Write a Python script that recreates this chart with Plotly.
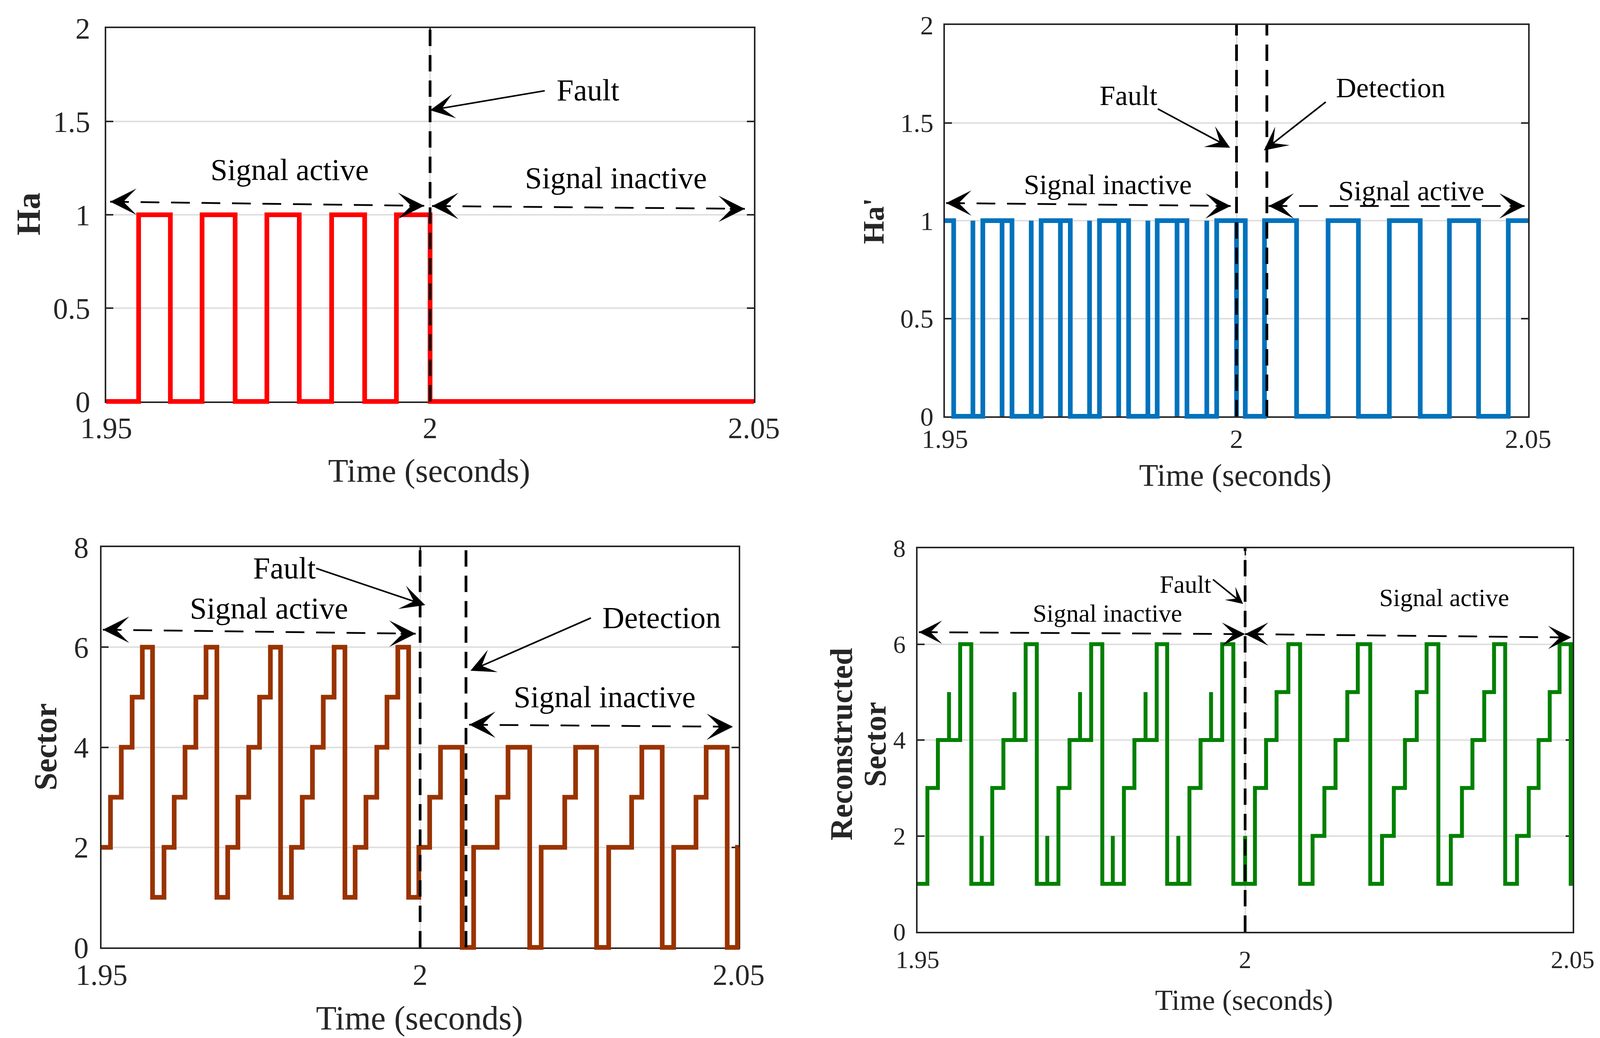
import plotly.graph_objects as go

W, H = 4107, 2658
FONT = "Liberation Serif"
AXC = "#262626"
GRIDC = "#DFDFDF"

# ---------------- data ----------------
time_ticks = [1.95, 2.0, 2.05]
time_ticktext = ["1.95", "2", "2.05"]
ha_ticks = [0, 0.5, 1, 1.5, 2]
ha_ticktext = ["0", "0.5", "1", "1.5", "2"]
sector_ticks = [0, 2, 4, 6, 8]
sector_ticktext = ["0", "2", "4", "6", "8"]

# Ha (original hall signal) - switching instants and levels
ha_time = [1.95, 1.9550, 1.9599, 1.9648, 1.9699, 1.9748, 1.9798, 1.9848, 1.9899, 1.9948, 2.0000, 2.05]
ha_level = [0, 1, 0, 1, 0, 1, 0, 1, 0, 1, 0, 0]

# Ha' (reconstructed hall signal); repeated instants are narrow glitches
hap_time = [1.95, 1.9515, 1.9548, 1.9548, 1.9565, 1.9598, 1.9598, 1.9615, 1.9648, 1.9648,
            1.9665, 1.9698, 1.9698, 1.9715, 1.9748, 1.9748, 1.9765, 1.9798, 1.9798, 1.9815,
            1.9848, 1.9848, 1.9864, 1.9898, 1.9898, 1.9915, 1.9949, 1.9949, 1.9966, 2.0000,
            2.0000, 2.0015, 2.0048, 2.0103, 2.0157, 2.0209, 2.0262, 2.0315, 2.0365, 2.0415,
            2.0466, 2.05]
hap_level = [1, 0, 1, 0, 1, 0, 1, 0, 1, 0,
             1, 0, 1, 0, 1, 0, 1, 0, 1, 0,
             1, 0, 1, 0, 1, 0, 1, 0, 1, 0,
             1, 0, 1, 0, 1, 0, 1, 0, 1, 0,
             1, 1]

# Sector
sector_time = [1.95, 1.9514, 1.9531, 1.9548, 1.9564, 1.9580, 1.9598, 1.9614, 1.9631, 1.9648,
               1.9664, 1.9681, 1.9698, 1.9714, 1.9731, 1.9748, 1.9765, 1.9781, 1.9798, 1.9815,
               1.9831, 1.9848, 1.9865, 1.9882, 1.9898, 1.9915, 1.9932, 1.9948, 1.9965, 1.9982,
               1.9998, 2.0015, 2.0032, 2.0066, 2.0084, 2.0121, 2.0138, 2.0172, 2.0190, 2.0227,
               2.0244, 2.0277, 2.0296, 2.0332, 2.0348, 2.0380, 2.0398, 2.0433, 2.0449, 2.0482,
               2.0498, 2.05]
sector_level = [2, 3, 4, 5, 6, 1, 2, 3, 4, 5,
                6, 1, 2, 3, 4, 5, 6, 1, 2, 3,
                4, 5, 6, 1, 2, 3, 4, 5, 6, 1,
                2, 3, 4, 0, 2, 3, 4, 0, 2, 3,
                4, 0, 2, 3, 4, 0, 2, 3, 4, 0,
                2, 2]

# Reconstructed sector; repeated instants are narrow glitches
rsector_time = [1.95, 1.9515, 1.9531, 1.9548, 1.9548, 1.9565, 1.9582, 1.9598, 1.9598, 1.9614,
                1.9631, 1.9648, 1.9648, 1.9665, 1.9682, 1.9698, 1.9698, 1.9715, 1.9732, 1.9748,
                1.9748, 1.9765, 1.9782, 1.9798, 1.9798, 1.9815, 1.9831, 1.9848, 1.9848, 1.9865,
                1.9881, 1.9898, 1.9898, 1.9915, 1.9932, 1.9948, 1.9948, 1.9965, 1.9982, 2.0000,
                2.0000, 2.0015, 2.0032, 2.0048, 2.0066, 2.0084, 2.0103, 2.0121, 2.0138, 2.0156,
                2.0172, 2.0191, 2.0209, 2.0227, 2.0244, 2.0262, 2.0277, 2.0295, 2.0314, 2.0331,
                2.0347, 2.0365, 2.0380, 2.0397, 2.0415, 2.0433, 2.0448, 2.0465, 2.0480, 2.0497,
                2.05]
rsector_level = [1, 3, 4, 5, 4, 6, 1, 2, 1, 3,
                 4, 5, 4, 6, 1, 2, 1, 3, 4, 5,
                 4, 6, 1, 2, 1, 3, 4, 5, 4, 6,
                 1, 2, 1, 3, 4, 5, 4, 6, 1, 2,
                 1, 3, 4, 5, 6, 1, 2, 3, 4, 5,
                 6, 1, 2, 3, 4, 5, 6, 1, 2, 3,
                 4, 5, 6, 1, 2, 3, 4, 5, 6, 1,
                 1]

fault_time = 2.0
detect_time_ha = 2.0052
detect_time_sector = 2.0072

# ---------------- layout description ----------------
panels = [
    dict(box=(264, 1922, 64, 1020), yr=(0, 2), yt=ha_ticks, ytt=ha_ticktext,
         t=ha_time, v=ha_level, color="#FF0000", lw=12,
         tick=76, xso=-1, yso=22, title=84, title_xy=(1090, 1198), annot=78,
         ylab=[("Ha", 65, 540, 86)],
         vlines=[fault_time],
         texts=[("Fault", 2.0244, 1.669), ("Signal active", 1.9783, 1.242),
                ("Signal inactive", 2.0287, 1.197)],
         arrows=[((2.0178, 1.665), (2.0, 1.56))],
         darrows=[((1.9506, 1.070), (1.9991, 1.048)), ((2.0003, 1.047), (2.0486, 1.032))],
         hs=2.5, ahs=2.6),
    dict(box=(2411, 3904, 56, 1058), yr=(0, 2), yt=ha_ticks, ytt=ha_ticktext,
         t=hap_time, v=hap_level, color="#0072BD", lw=12,
         tick=68, xso=-4, yso=12, title=80, title_xy=(3154, 1209), annot=72,
         ylab=[("Ha'", 2228, 558, 76)],
         vlines=[fault_time, detect_time_ha],
         texts=[("Fault", 1.9815, 1.638), ("Detection", 2.0264, 1.679),
                ("Signal inactive", 1.9779, 1.184), ("Signal active", 2.0300, 1.151)],
         arrows=[((1.9864, 1.573), (1.9989, 1.373)), ((2.0154, 1.609), (2.0047, 1.359))],
         darrows=[((1.9502, 1.09), (1.9990, 1.075)), ((2.0055, 1.075), (2.0494, 1.075))],
         hs=2.4, ahs=2.5),
    dict(box=(252, 1883, 1393, 2418), yr=(0, 8), yt=sector_ticks, ytt=sector_ticktext,
         t=sector_time, v=sector_level, color="#993300", lw=12,
         tick=76, xso=1, yso=14, title=86, title_xy=(1066, 2599), annot=78,
         ylab=[("Sector", 108, 1905, 82)],
         vlines=[fault_time, detect_time_sector],
         texts=[("Fault", 1.9787, 7.58), ("Signal active", 1.9763, 6.78),
                ("Detection", 2.0379, 6.59), ("Signal inactive", 2.0290, 5.01)],
         arrows=[((1.9836, 7.58), (2.0008, 6.84)), ((2.0269, 6.59), (2.0079, 5.53))],
         darrows=[((1.9502, 6.35), (1.9993, 6.27)), ((2.0077, 4.45), (2.0491, 4.41))],
         hs=2.5, ahs=2.6),
    dict(box=(2341, 4018, 1396, 2378), yr=(0, 8), yt=sector_ticks, ytt=sector_ticktext,
         t=rsector_time, v=rsector_level, color="#008000", lw=10,
         tick=64, xso=12, yso=14, title=74, title_xy=(3177, 2553), annot=64,
         ylab=[("Reconstructed", 2146, 1898, 80), ("Sector", 2232, 1898, 80)],
         vlines=[fault_time],
         texts=[("Fault", 1.9909, 7.25), ("Signal inactive", 1.9790, 6.64),
                ("Signal active", 2.0304, 6.97)],
         arrows=[((1.9950, 7.36), (1.9997, 6.84))],
         darrows=[((1.9502, 6.25), (2.0, 6.21)), ((2.0, 6.21), (2.0498, 6.14))],
         hs=2.2, ahs=1.8),
]

fig = go.Figure()
layout = dict(template="none", width=W, height=H, margin=dict(l=0, r=0, t=0, b=0, pad=0),
              paper_bgcolor="white", plot_bgcolor="rgba(0,0,0,0)", showlegend=False)
shapes, annotations = [], []
PAD = 30
XA, XB = 1.95, 2.05

for k, p in enumerate(panels, start=1):
    X0, X1, Y0, Y1 = p["box"]
    ya, yb = p["yr"]
    sx = (XB - XA) / (X1 - X0)
    sy = (yb - ya) / (Y1 - Y0)
    xn = "xaxis" if k == 1 else f"xaxis{k}"
    yn = "yaxis" if k == 1 else f"yaxis{k}"
    xr = "x" if k == 1 else f"x{k}"
    yrf = "y" if k == 1 else f"y{k}"
    common = dict(showline=True, linecolor=AXC, linewidth=3.5, mirror="ticks",
                  ticks="inside", ticklen=18, tickwidth=3.5, tickcolor=AXC,
                  showgrid=True, gridcolor=GRIDC, gridwidth=3.5, zeroline=False,
                  automargin=False,
                  tickfont=dict(family=FONT, size=p["tick"], color=AXC), fixedrange=True)
    layout[xn] = dict(domain=[X0 / W, X1 / W], range=[XA, XB], anchor=yrf,
                      tickmode="array", tickvals=time_ticks, ticktext=time_ticktext,
                      ticklabelstandoff=p["xso"], **common)
    layout[yn] = dict(domain=[1 - Y1 / H, 1 - Y0 / H], range=[ya, yb], anchor=xr,
                      tickmode="array", tickvals=p["yt"], ticktext=p["ytt"],
                      ticklabelstandoff=p["yso"], **common)
    # hidden axes with identical scale but padded so thick lines are not clipped
    hk = k + 4
    layout[f"xaxis{hk}"] = dict(domain=[(X0 - PAD) / W, (X1 + PAD) / W],
                                range=[XA - PAD * sx, XB + PAD * sx], anchor=f"y{hk}",
                                visible=False, fixedrange=True, automargin=False)
    layout[f"yaxis{hk}"] = dict(domain=[1 - (Y1 + PAD) / H, 1 - (Y0 - PAD) / H],
                                range=[ya - PAD * sy, yb + PAD * sy], anchor=f"x{hk}",
                                visible=False, fixedrange=True, automargin=False)
    fig.add_trace(go.Scatter(x=p["t"], y=p["v"], mode="lines",
                             line=dict(color=p["color"], width=p["lw"], shape="hv"),
                             xaxis=f"x{hk}", yaxis=f"y{hk}", hoverinfo="skip"))
    # fault / detection lines
    for tv in p["vlines"]:
        shapes.append(dict(type="line", xref=xr, yref=yrf, x0=tv, x1=tv, y0=ya, y1=yb,
                           line=dict(color="black", width=7, dash="42px,23px"), layer="above"))
    # texts
    for txt, tx, ty in p["texts"]:
        annotations.append(dict(text=txt, x=tx, y=ty, xref=xr, yref=yrf, showarrow=False,
                                xanchor="center", yanchor="middle",
                                font=dict(family=FONT, size=p["annot"], color="black")))
    # pointing arrows
    for (tail, tip) in p["arrows"]:
        annotations.append(dict(text="", x=tip[0], y=tip[1], ax=tail[0], ay=tail[1],
                                xref=xr, yref=yrf, axref=xr, ayref=yrf, showarrow=True,
                                arrowhead=3, arrowsize=p["ahs"], arrowwidth=4,
                                arrowcolor="black", standoff=0))
    # dashed double arrows
    for (a, b) in p["darrows"]:
        shapes.append(dict(type="line", xref=xr, yref=yrf, x0=a[0], y0=a[1], x1=b[0], y1=b[1],
                           line=dict(color="black", width=4.5, dash="48px,30px"), layer="above"))
        for tip, off in ((a, 40), (b, -40)):
            annotations.append(dict(text="", x=tip[0], y=tip[1], xref=xr, yref=yrf,
                                    ax=off, ay=0, showarrow=True, arrowhead=3,
                                    arrowsize=p["hs"], arrowwidth=4.5, arrowcolor="black",
                                    standoff=0))
    # x title
    tx, ty = p["title_xy"]
    annotations.append(dict(text="Time (seconds)", x=tx / W, y=1 - ty / H, xref="paper",
                            yref="paper", showarrow=False, xanchor="center", yanchor="middle",
                            font=dict(family=FONT, size=p["title"], color=AXC)))
    # y labels
    for txt, lx, ly, fs in p["ylab"]:
        annotations.append(dict(text=f"<b>{txt}</b>", x=lx / W, y=1 - ly / H, xref="paper",
                                yref="paper", showarrow=False, textangle=-90,
                                xanchor="center", yanchor="middle",
                                font=dict(family=FONT, size=fs, color=AXC)))

layout["shapes"] = shapes
layout["annotations"] = annotations
fig.update_layout(**layout)
fig.write_html("out.html")
